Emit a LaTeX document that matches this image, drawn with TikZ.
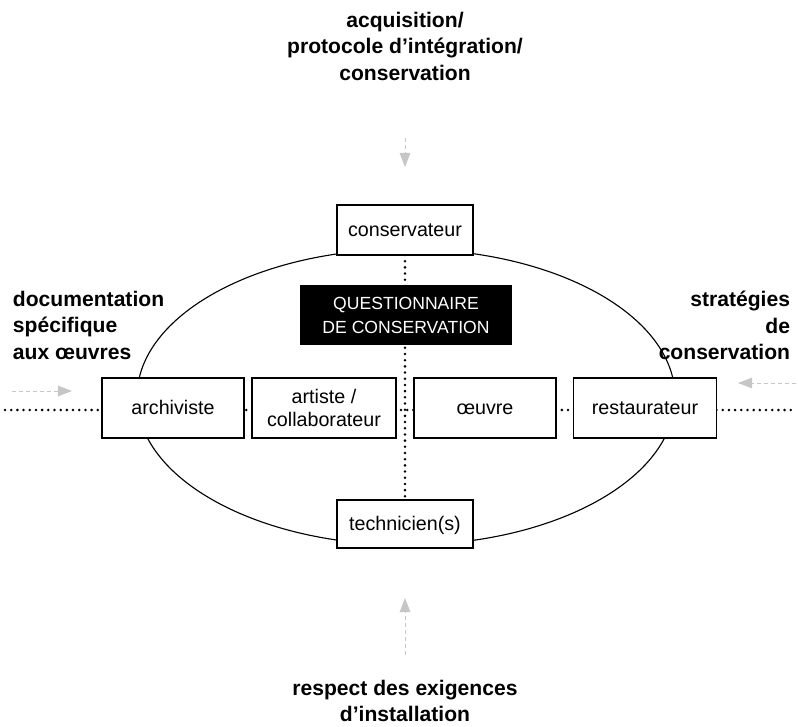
\documentclass[tikz,border=0pt]{standalone}
\usepackage{fontspec}
\setmainfont{Liberation Sans}
\usetikzlibrary{arrows.meta}

\begin{document}
\begin{tikzpicture}[x=0.025cm, y=-0.025cm,
        role/.style={draw, fill=white, line width=0.8pt, minimum width=3.55cm, minimum height=1.5cm, align=center, font=\fontsize{14}{16.5}\selectfont},
        oneline/.style={text height=2.3ex, text depth=0.5ex},
        heading/.style={font=\bfseries\fontsize{15}{19}\selectfont},
        linkdots/.style={line width=2pt, line cap=round, dash pattern=on 0pt off 4.4pt},
        feed/.style={draw=gray!45, line width=0.6pt, densely dashed, -{Triangle[length=10pt, width=7.5pt, fill=gray!45]}}]
        \useasboundingbox (0, 0) rectangle (798, 726);

        % ring of actors
        \draw[line width=0.8pt] (406, 397) ellipse [x radius=269, y radius=148];

        \coordinate (farleft) at (5, 410);
        \coordinate (farright) at (795, 410);
        \draw[linkdots] (farleft) -- (farright);
        \draw[linkdots] (405, 255) -- (405, 500);

        \node[role, oneline, minimum width=3.4cm, minimum height=1.25cm] (conservateur) at (405, 230) {conservateur};
        \node[role, oneline, minimum width=3.4cm, minimum height=1.2cm] (technicien) at (405, 524) {technicien(s)};

        \node[fill=black, text=white, minimum width=5.3cm, minimum height=1.5cm, align=center, font=\fontsize{12.5}{17}\selectfont] (questionnaire) at (406, 315) {QUESTIONNAIRE\\DE CONSERVATION};

        \node[role, oneline] (archiviste) at (173, 408) {archiviste};
        \node[role, minimum width=3.6cm] (artiste) at (324, 408) {artiste /\\collaborateur};
        \node[role, oneline] (oeuvre) at (485, 408) {œuvre};
        \node[role, oneline, minimum width=3.575cm] (restaurateur) at (645, 408) {restaurateur};

        % inputs
        \node[heading, align=center, anchor=north] (acquisition) at (405, 7) {acquisition/\\protocole d’intégration/\\conservation};
        \node[heading, align=left, anchor=north west] (documentation) at (8, 286) {documentation\\spécifique\\aux œuvres};
        \node[heading, align=right, anchor=north east] (strategies) at (795, 286) {stratégies\\de\\conservation};
        \node[heading, align=center, anchor=south] (respect) at (405, 727) {respect des exigences\\d’installation};

        \coordinate (topstart) at (405, 138);
        \coordinate (topend) at (405, 167);
        \coordinate (leftstart) at (12, 391);
        \coordinate (leftend) at (72, 391);
        \coordinate (rightstart) at (796, 383);
        \coordinate (rightend) at (738, 383);
        \coordinate (bottomstart) at (405, 655);
        \coordinate (bottomend) at (405, 598);

        \draw[feed] (topstart) -- (topend);
        \draw[feed] (leftstart) -- (leftend);
        \draw[feed] (rightstart) -- (rightend);
        \draw[feed] (bottomstart) -- (bottomend);
\end{tikzpicture}
\end{document}
